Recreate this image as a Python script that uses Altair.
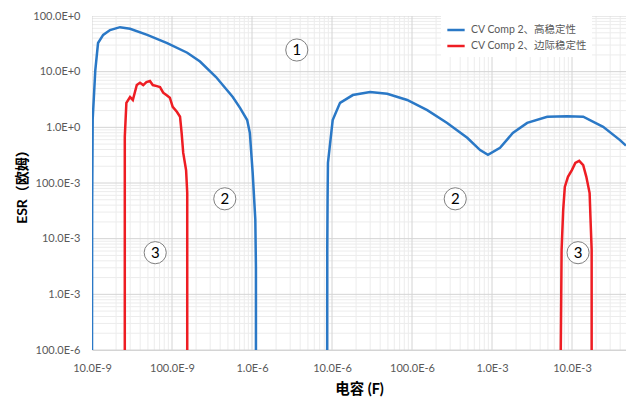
import altair as alt
import pandas as pd

series_names = ["CV Comp 2、高稳定性", "CV Comp 2、边际稳定性"]
series_colors = ["#2a78c6", "#ee1d23"]

# High stability, left segment
hs1_x = [1.00e-8, 1.005e-8, 1.02e-8, 1.10e-8, 1.19e-8, 1.38e-8, 1.68e-8, 2.24e-8, 2.99e-8,
         4.9e-8, 8.7e-8, 1.55e-7, 2.24e-7, 3.55e-7, 5.75e-7, 7.08e-7, 8.7e-7, 9.4e-7,
         1.02e-6, 1.10e-6, 1.12e-6, 1.12e-6]
hs1_y = [1e-4, 0.05, 1.4, 10.7, 32.7, 45.7, 56, 63, 59,
         45.7, 32.7, 21.9, 15.2, 8.0, 3.5, 2.24, 1.35, 0.79,
         0.15, 0.022, 0.003, 1e-4]
# High stability, right segment
hs2_x = [8.7e-6, 8.72e-6, 8.8e-6, 8.9e-6, 1.02e-5, 1.26e-5, 1.82e-5, 2.99e-5, 4.9e-5,
         8.7e-5, 1.55e-4, 2.75e-4, 4.9e-4, 7.1e-4, 8.9e-4, 1.26e-3, 1.82e-3, 2.75e-3,
         4.9e-3, 8.7e-3, 1.38e-2, 2.45e-2, 3.98e-2, 4.73e-2]
hs2_y = [1e-4, 0.0063, 0.05, 0.23, 1.35, 2.75, 3.8, 4.3, 4.0,
         3.1, 2.04, 1.2, 0.65, 0.39, 0.32, 0.43, 0.79, 1.2,
         1.55, 1.58, 1.55, 1.02, 0.59, 0.47]
# Marginal stability, left segment
ms1_x = [2.57e-8, 2.57e-8, 2.69e-8, 2.99e-8, 3.24e-8, 3.63e-8, 3.98e-8, 4.37e-8, 4.79e-8,
         5.3e-8, 5.75e-8, 6.46e-8, 7.08e-8, 7.76e-8, 8.5e-8, 9.4e-8, 1.02e-7, 1.15e-7,
         1.26e-7, 1.32e-7, 1.38e-7, 1.50e-7, 1.55e-7, 1.55e-7]
ms1_y = [1e-4, 0.68, 2.75, 3.5, 3.1, 5.75, 6.3, 5.75, 6.5,
         6.8, 5.75, 5.5, 5.3, 4.2, 3.8, 3.4, 2.34, 1.9,
         1.55, 0.79, 0.35, 0.17, 0.066, 1e-4]
# Marginal stability, right segment
ms2_x = [7.24e-3, 7.41e-3, 7.76e-3, 8.13e-3, 8.9e-3, 1.0e-2, 1.10e-2, 1.23e-2, 1.38e-2,
         1.51e-2, 1.66e-2, 1.70e-2, 1.76e-2, 1.76e-2]
ms2_y = [1e-4, 0.0063, 0.033, 0.085, 0.129, 0.172, 0.23, 0.25, 0.21,
         0.129, 0.066, 0.0245, 0.0063, 1e-4]

# Circled region labels
note_text = ["1", "2", "2", "3", "3"]
note_x = [3.63e-6, 4.57e-7, 3.47e-4, 6.17e-8, 1.19e-2]
note_y = [24.5, 0.052, 0.052, 0.0056, 0.0056]

x_ticks = [1e-8, 1e-7, 1e-6, 1e-5, 1e-4, 1e-3, 1e-2]
x_labels = ["10.0E-9", "100.0E-9", "1.0E-6", "10.0E-6", "100.0E-6", "1.0E-3", "10.0E-3"]
y_ticks = [1e-4, 1e-3, 1e-2, 1e-1, 1e0, 1e1, 1e2]
y_labels = ["100.0E-6", "1.0E-3", "10.0E-3", "100.0E-3", "1.0E+0", "10.0E+0", "100.0E+0"]
minor_mult = [2, 3, 4, 5, 6, 7, 8, 9]

x_domain = [1e-8, 0.0473]
y_domain = [1e-4, 100]

rows = []
for s, seg, xs_, ys_ in [(series_names[0], "a", hs1_x, hs1_y), (series_names[0], "b", hs2_x, hs2_y),
                         (series_names[1], "c", ms1_x, ms1_y), (series_names[1], "d", ms2_x, ms2_y)]:
    for i, (xv, yv) in enumerate(zip(xs_, ys_)):
        rows.append({"series": s, "seg": seg, "i": i, "x": xv, "y": yv})
df = pd.DataFrame(rows)

notes = pd.DataFrame({"t": note_text, "x": note_x, "y": note_y})

x_minor = pd.DataFrame({"x": [m * t for t in x_ticks for m in minor_mult]})
y_minor = pd.DataFrame({"y": [m * t for t in y_ticks[:-1] for m in minor_mult]})
x_major = pd.DataFrame({"x": x_ticks})
y_major = pd.DataFrame({"y": y_ticks})


def label_expr(vals, labs):
    expr = "''"
    for v, l in reversed(list(zip(vals, labs))):
        expr = f"datum.value < {v * 1.5} ? '{l}' : ({expr})"
    return expr


font = "Lato, 'Noto Sans CJK SC'"

xs = alt.Scale(type="log", domain=x_domain, nice=False)
ys = alt.Scale(type="log", domain=y_domain, nice=False)

x_axis = alt.Axis(values=x_ticks, labelExpr=label_expr(x_ticks, x_labels), grid=False,
                  ticks=False, domain=True, domainColor="#d4d4d4", labelPadding=12,
                  labelFlush=False,
                  labelFontSize=11, labelColor="#595959", labelFont=font,
                  titleFont=font, titleFontSize=14.5, titleFontWeight="bold",
                  titleColor="#000000", titlePadding=9)
y_axis = alt.Axis(values=y_ticks, labelExpr=label_expr(y_ticks, y_labels), grid=False,
                  ticks=False, domain=False, labelPadding=12, labelFlush=False,
                  labelFontSize=11, labelColor="#595959", labelFont=font,
                  titleFont=font, titleFontSize=14, titleFontWeight="bold",
                  titleColor="#000000", titlePadding=3)


def X(f="x:Q"):
    return alt.X(f, scale=xs, axis=x_axis, title="电容 (F)")


def Y(f="y:Q"):
    return alt.Y(f, scale=ys, axis=y_axis, title="ESR（欧姆）")


minor_v = alt.Chart(x_minor).mark_rule(color="#ececec", strokeWidth=1, clip=True).encode(x=X())
minor_h = alt.Chart(y_minor).mark_rule(color="#ececec", strokeWidth=1, clip=True).encode(y=Y())
major_v = alt.Chart(x_major).mark_rule(color="#d4d4d4", strokeWidth=1, clip=True).encode(x=X())
major_h = alt.Chart(y_major).mark_rule(color="#d4d4d4", strokeWidth=1, clip=True).encode(y=Y())

lines = alt.Chart(df).mark_line(strokeWidth=2.5, clip=True).encode(
    x=X(),
    y=Y(),
    color=alt.Color("series:N", scale=alt.Scale(domain=series_names, range=series_colors),
                    legend=alt.Legend(title=None, orient="none", legendX=349, legendY=-1,
                                      symbolType="stroke", symbolSize=300, symbolStrokeWidth=2.5,
                                      labelFontSize=10.5, labelColor="#595959", labelFont=font,
                                      labelOffset=5,
                                      fillColor="white", padding=5, rowPadding=0,
                                      labelLimit=300)),
    detail="seg:N",
    order="i:Q",
)

circles = alt.Chart(notes).mark_point(shape="circle", filled=True, fill="white", stroke="#808080",
                                      strokeWidth=1, size=490, opacity=1).encode(x=X(), y=Y())
texts = alt.Chart(notes).mark_text(fontSize=15, font=font, color="#000000", baseline="middle",
                                   align="center").encode(x=X(), y=Y(), text="t:N")

chart = alt.layer(minor_v, minor_h, major_v, major_h, lines, circles, texts).properties(
    width=534, height=334,
    autosize=alt.AutoSizeParams(type="none"),
    padding={"left": 92, "top": 16, "right": 0, "bottom": 53},
    background="white",
).configure_view(stroke=None)

chart.save("out.html", embed_options={"renderer": "svg", "actions": False})
